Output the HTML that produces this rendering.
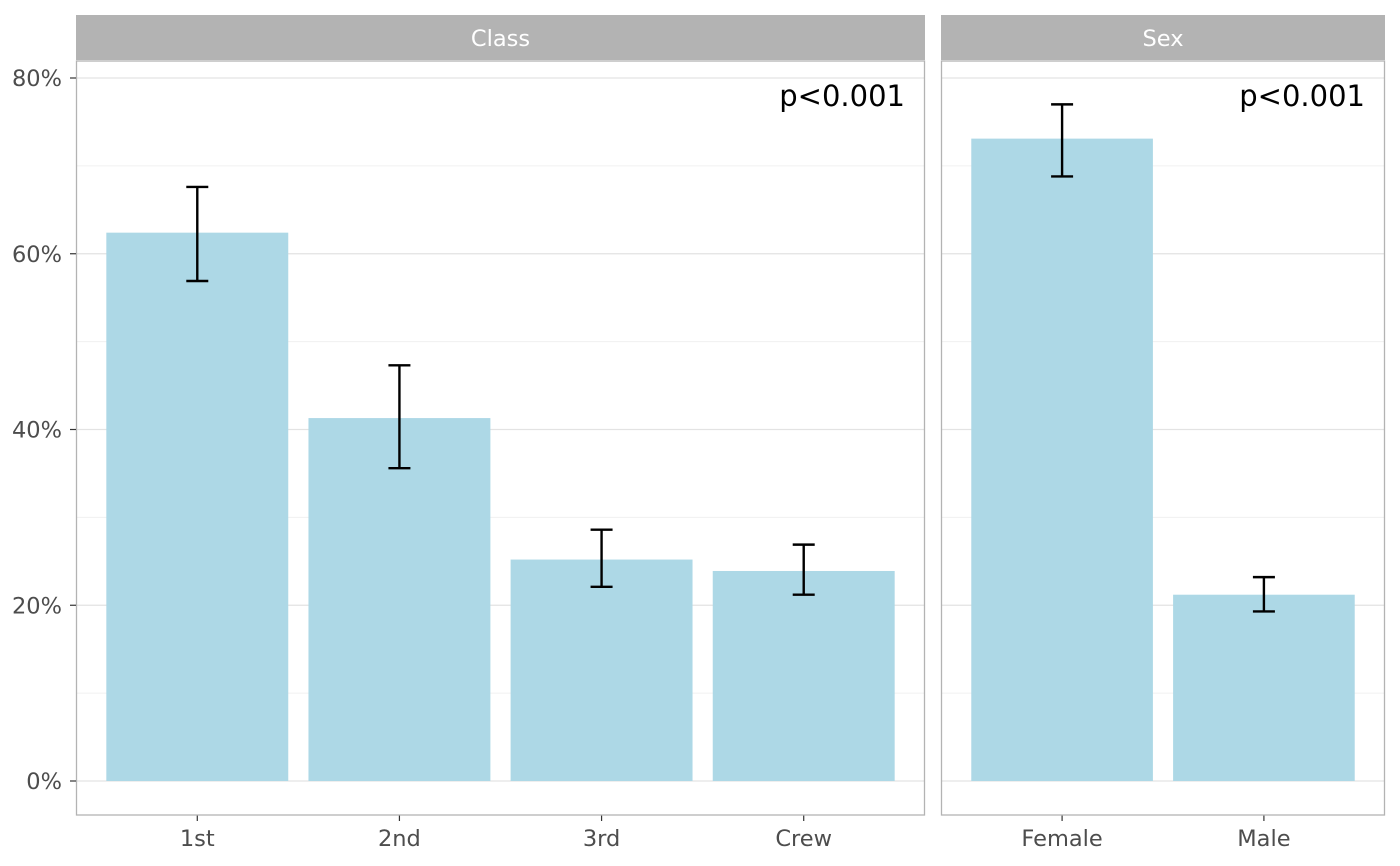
<!DOCTYPE html>
<html><head><meta charset="utf-8"><style>
html,body{margin:0;padding:0;background:#fff;}
svg{display:block;font-family:"DejaVu Sans","Liberation Sans",sans-serif;}
</style></head><body>
<svg id="chart" width="1400" height="866" viewBox="0 0 1400 866"></svg>
<script>
const classCats = ["1st","2nd","3rd","Crew"];
const classVals = [62.4, 41.3, 25.2, 23.9];
const classLo = [56.9, 35.6, 22.1, 21.2];
const classHi = [67.6, 47.3, 28.6, 26.9];
const sexCats = ["Female","Male"];
const sexVals = [73.1, 21.2];
const sexLo = [68.8, 19.3];
const sexHi = [77.0, 23.2];
const yTicks = [0,20,40,60,80];
const yMinor = [10,30,50,70];
const yTickLabels = ["0%","20%","40%","60%","80%"];

const NS="http://www.w3.org/2000/svg";
const svg=document.getElementById('chart');
function mk(tag,attrs,parent){const e=document.createElementNS(NS,tag);for(const k in attrs)e.setAttribute(k,attrs[k]);(parent||svg).appendChild(e);return e;}
const yTop=61,yBot=815,y0=781,pxPer=(781-78)/80;
function y(v){return y0-v*pxPer;}

const panels=[
 {name:"Class",x0:76,x1:925,cats:classCats,vals:classVals,lo:classLo,hi:classHi},
 {name:"Sex",x0:941,x1:1385,cats:sexCats,vals:sexVals,lo:sexLo,hi:sexHi}
];
panels.forEach((p,pi)=>{
 const g=mk('g',{});
 
 
 const n=p.cats.length, unit=(p.x1-p.x0)/(n+0.2);
 const cx=i=>p.x0+(i+0.6)*unit;
 const s=mk('rect',{x:p.x0,y:15,width:p.x1-p.x0,height:45,fill:'#b3b3b3'},g);
 
 
 const st=mk('text',{x:(p.x0+p.x1)/2,y:46,'text-anchor':'middle','font-size':'22.5',fill:'#fff'},g);
 st.textContent=p.name;
 
 
 yMinor.forEach(v=>mk('line',{x1:p.x0,x2:p.x1,y1:y(v),y2:y(v),stroke:'#f0f0f0','stroke-width':1},g));
 yTicks.forEach(v=>mk('line',{x1:p.x0,x2:p.x1,y1:y(v),y2:y(v),stroke:'#e3e3e3','stroke-width':1.3},g));
 for(let i=0;i<n;i++){
  const b=mk('rect',{x:cx(i)-0.45*unit,y:y(p.vals[i]),width:0.9*unit,height:y(0)-y(p.vals[i]),fill:'#add8e6'},g);
  
  
  const e=mk('path',{d:`M${cx(i)-11},${y(p.hi[i])}H${cx(i)+11}M${cx(i)},${y(p.hi[i])}V${y(p.lo[i])}M${cx(i)-11},${y(p.lo[i])}H${cx(i)+11}`,stroke:'#000','stroke-width':2.4,fill:'none'},g);
  
  
  mk('line',{x1:cx(i),x2:cx(i),y1:yBot,y2:yBot+6,stroke:'#333','stroke-width':1.2},g);
  const t=mk('text',{x:cx(i),y:846,'text-anchor':'middle','font-size':'22.5',fill:'#4d4d4d'},g);
  t.textContent=p.cats[i];
  
  
 }
 mk('rect',{x:p.x0+0.5,y:yTop,width:p.x1-p.x0-1,height:yBot-yTop,fill:'none',stroke:'#b3b3b3','stroke-width':1.3},g);
 const pv=mk('text',{x:p.x1-20,y:106,'text-anchor':'end','font-size':'29',fill:'#000'},g);
 pv.textContent='p<0.001';
 
 
});
yTicks.forEach((v,i)=>{
 mk('line',{x1:70,x2:76,y1:y(v),y2:y(v),stroke:'#333','stroke-width':1.2});
 const t=mk('text',{x:62,y:y(v)+8,'text-anchor':'end','font-size':'22.5',fill:'#4d4d4d'});
 t.textContent=yTickLabels[i];
 
 
});
</script>
</body></html>
